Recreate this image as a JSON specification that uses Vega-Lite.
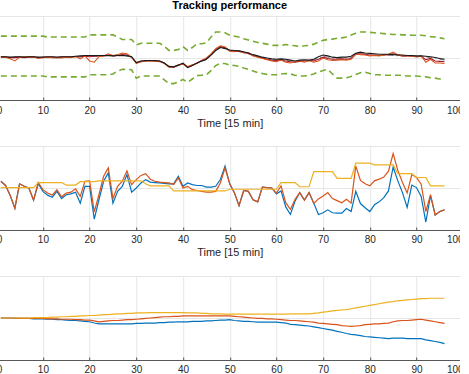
{
"$schema": "https://vega.github.io/schema/vega-lite/v6.json",
"padding": {"left": -4.8, "top": 0, "right": -4.3, "bottom": -12},
"spacing": 46,
"bounds": "flush",
"data": {"values": [
{"t":1,"u":0.52,"l":-0.43,"r":0.03,"m":0.03,"d":0.02,"e":0.02,"b2":0.16,"o2":0.16,"y2":0.01,"b3":0,"o3":0,"y3":0},
{"t":2,"u":0.52,"l":-0.43,"r":0.03,"m":0.02,"d":0.02,"e":0.02,"b2":0.06,"o2":0.06,"y2":0.01,"b3":0,"o3":0,"y3":0},
{"t":3,"u":0.52,"l":-0.43,"r":0.02,"m":-0.02,"d":0.01,"e":0.01,"b2":-0.18,"o2":-0.18,"y2":0.01,"b3":0,"o3":0,"y3":0},
{"t":4,"u":0.52,"l":-0.43,"r":0.03,"m":-0.07,"d":0.01,"e":0.02,"b2":-0.48,"o2":-0.48,"y2":0.01,"b3":-0.01,"o3":0,"y3":0},
{"t":5,"u":0.52,"l":-0.43,"r":0.03,"m":0.02,"d":0.02,"e":0.02,"b2":0.1,"o2":0.1,"y2":0.01,"b3":-0.01,"o3":-0.01,"y3":0},
{"t":6,"u":0.52,"l":-0.43,"r":0.02,"m":0.03,"d":0.01,"e":0.01,"b2":0.04,"o2":0.04,"y2":0.01,"b3":-0.01,"o3":-0.01,"y3":0},
{"t":7,"u":0.52,"l":-0.43,"r":0.03,"m":0.02,"d":0.02,"e":0.02,"b2":0,"o2":0,"y2":0.01,"b3":-0.01,"o3":-0.01,"y3":0},
{"t":8,"u":0.52,"l":-0.43,"r":0.03,"m":0.03,"d":0.02,"e":0.02,"b2":-0.29,"o2":-0.29,"y2":0.01,"b3":-0.02,"o3":-0.01,"y3":0.01},
{"t":9,"u":0.52,"l":-0.43,"r":0.02,"m":-0.01,"d":0.01,"e":0.01,"b2":0.1,"o2":0.13,"y2":0.13,"b3":-0.02,"o3":-0.01,"y3":0.01},
{"t":10,"u":0.52,"l":-0.43,"r":0.02,"m":0.02,"d":0.01,"e":0.01,"b2":-0.08,"o2":-0.04,"y2":0.13,"b3":-0.02,"o3":-0.01,"y3":0.01},
{"t":11,"u":0.5,"l":-0.45,"r":0.03,"m":0.01,"d":0.02,"e":0.02,"b2":-0.17,"o2":-0.12,"y2":0.13,"b3":-0.03,"o3":-0.02,"y3":0.01},
{"t":12,"u":0.5,"l":-0.45,"r":0.03,"m":0.02,"d":0.01,"e":0.02,"b2":-0.22,"o2":-0.17,"y2":0.13,"b3":-0.03,"o3":-0.02,"y3":0.02},
{"t":13,"u":0.5,"l":-0.45,"r":0.02,"m":0.01,"d":0.01,"e":0.01,"b2":-0.08,"o2":-0.04,"y2":0.13,"b3":-0.04,"o3":-0.02,"y3":0.02},
{"t":14,"u":0.5,"l":-0.45,"r":0.03,"m":0,"d":0.02,"e":0.02,"b2":-0.25,"o2":-0.21,"y2":0.13,"b3":-0.04,"o3":-0.03,"y3":0.03},
{"t":15,"u":0.5,"l":-0.45,"r":0.03,"m":0.02,"d":0.02,"e":0.02,"b2":-0.16,"o2":-0.12,"y2":0.07,"b3":-0.05,"o3":-0.03,"y3":0.03},
{"t":16,"u":0.5,"l":-0.45,"r":0.03,"m":0.01,"d":0.02,"e":0.02,"b2":-0.14,"o2":-0.1,"y2":0.07,"b3":-0.06,"o3":-0.03,"y3":0.04},
{"t":17,"u":0.5,"l":-0.45,"r":0.04,"m":0.04,"d":0.03,"e":0.03,"b2":-0.1,"o2":-0.02,"y2":0.07,"b3":-0.06,"o3":-0.04,"y3":0.04},
{"t":18,"u":0.5,"l":-0.45,"r":0.05,"m":-0.02,"d":0.03,"e":0.03,"b2":-0.36,"o2":-0.2,"y2":0.15,"b3":-0.07,"o3":-0.04,"y3":0.05},
{"t":19,"u":0.5,"l":-0.45,"r":0.06,"m":0.05,"d":0.04,"e":0.04,"b2":0.04,"o2":0.16,"y2":0.15,"b3":-0.08,"o3":-0.05,"y3":0.05},
{"t":20,"u":0.55,"l":-0.4,"r":0.06,"m":-0.07,"d":0.03,"e":0.04,"b2":0.04,"o2":0.17,"y2":0.15,"b3":-0.09,"o3":-0.05,"y3":0.06},
{"t":21,"u":0.55,"l":-0.4,"r":0.06,"m":-0.1,"d":0.04,"e":0.04,"b2":-0.74,"o2":-0.57,"y2":0.15,"b3":-0.12,"o3":-0.07,"y3":0.06},
{"t":22,"u":0.55,"l":-0.4,"r":0.06,"m":0.03,"d":0.05,"e":0.04,"b2":-0.28,"o2":-0.16,"y2":0.17,"b3":-0.14,"o3":-0.09,"y3":0.07},
{"t":23,"u":0.55,"l":-0.4,"r":0.06,"m":0.05,"d":0.05,"e":0.04,"b2":0.16,"o2":0.28,"y2":0.17,"b3":-0.14,"o3":-0.08,"y3":0.08},
{"t":24,"u":0.55,"l":-0.4,"r":0.06,"m":0.1,"d":0.07,"e":0.05,"b2":0.36,"o2":0.48,"y2":0.17,"b3":-0.14,"o3":-0.07,"y3":0.08},
{"t":25,"u":0.55,"l":-0.38,"r":0.05,"m":0.06,"d":0.05,"e":0.04,"b2":-0.36,"o2":-0.25,"y2":0.17,"b3":-0.14,"o3":-0.06,"y3":0.09},
{"t":26,"u":0.5,"l":-0.31,"r":0.06,"m":0.08,"d":0.06,"e":0.05,"b2":-0.08,"o2":0.04,"y2":0.17,"b3":-0.14,"o3":-0.06,"y3":0.1},
{"t":27,"u":0.44,"l":-0.27,"r":0.06,"m":0.12,"d":0.08,"e":0.05,"b2":0.04,"o2":0.16,"y2":0.17,"b3":-0.14,"o3":-0.05,"y3":0.1},
{"t":28,"u":0.44,"l":-0.27,"r":0.05,"m":0.1,"d":0.07,"e":0.04,"b2":0.32,"o2":0.41,"y2":0.17,"b3":-0.14,"o3":-0.04,"y3":0.11},
{"t":29,"u":0.44,"l":-0.28,"r":0.03,"m":0.02,"d":0.02,"e":0.02,"b2":-0.1,"o2":0.08,"y2":0.17,"b3":-0.14,"o3":-0.04,"y3":0.11},
{"t":30,"u":0.31,"l":-0.48,"r":-0.11,"m":-0.13,"d":-0.12,"e":-0.12,"b2":0,"o2":0.2,"y2":0.17,"b3":-0.13,"o3":-0.03,"y3":0.12},
{"t":31,"u":0.35,"l":-0.43,"r":-0.07,"m":-0.09,"d":-0.08,"e":-0.09,"b2":0.12,"o2":0.3,"y2":0.17,"b3":-0.13,"o3":-0.02,"y3":0.12},
{"t":32,"u":0.35,"l":-0.43,"r":-0.06,"m":-0.07,"d":-0.07,"e":-0.08,"b2":0.2,"o2":0.34,"y2":0.1,"b3":-0.12,"o3":-0.01,"y3":0.12},
{"t":33,"u":0.35,"l":-0.43,"r":-0.06,"m":-0.06,"d":-0.07,"e":-0.08,"b2":0.14,"o2":0.21,"y2":0.05,"b3":-0.12,"o3":0,"y3":0.13},
{"t":34,"u":0.35,"l":-0.43,"r":-0.06,"m":-0.08,"d":-0.07,"e":-0.08,"b2":0.13,"o2":0.16,"y2":0.05,"b3":-0.12,"o3":0.01,"y3":0.13},
{"t":35,"u":0.35,"l":-0.43,"r":-0.07,"m":-0.07,"d":-0.08,"e":-0.09,"b2":0.12,"o2":0.14,"y2":0.05,"b3":-0.11,"o3":0.02,"y3":0.13},
{"t":36,"u":0.28,"l":-0.52,"r":-0.12,"m":-0.13,"d":-0.12,"e":-0.13,"b2":0.11,"o2":0.13,"y2":0.05,"b3":-0.11,"o3":0.03,"y3":0.13},
{"t":37,"u":0.18,"l":-0.61,"r":-0.2,"m":-0.22,"d":-0.21,"e":-0.21,"b2":0.1,"o2":0.12,"y2":0.05,"b3":-0.1,"o3":0.03,"y3":0.13},
{"t":38,"u":0.18,"l":-0.61,"r":-0.21,"m":-0.22,"d":-0.22,"e":-0.22,"b2":0.1,"o2":0.08,"y2":-0.07,"b3":-0.1,"o3":0.04,"y3":0.13},
{"t":39,"u":0.2,"l":-0.57,"r":-0.17,"m":-0.16,"d":-0.17,"e":-0.18,"b2":0.28,"o2":0.24,"y2":-0.07,"b3":-0.09,"o3":0.04,"y3":0.13},
{"t":40,"u":0.27,"l":-0.51,"r":-0.12,"m":-0.15,"d":-0.13,"e":-0.14,"b2":0.04,"o2":0,"y2":-0.07,"b3":-0.09,"o3":0.05,"y3":0.13},
{"t":41,"u":0.18,"l":-0.58,"r":-0.23,"m":-0.2,"d":-0.22,"e":-0.22,"b2":0.12,"o2":0.04,"y2":-0.07,"b3":-0.09,"o3":0.05,"y3":0.12},
{"t":42,"u":0.25,"l":-0.5,"r":-0.18,"m":-0.16,"d":-0.17,"e":-0.18,"b2":0.08,"o2":-0.04,"y2":-0.07,"b3":-0.08,"o3":0.05,"y3":0.12},
{"t":43,"u":0.34,"l":-0.42,"r":-0.12,"m":-0.13,"d":-0.12,"e":-0.13,"b2":0.06,"o2":-0.06,"y2":-0.07,"b3":-0.08,"o3":0.05,"y3":0.12},
{"t":44,"u":0.34,"l":-0.41,"r":-0.07,"m":-0.06,"d":-0.06,"e":-0.08,"b2":0.06,"o2":-0.08,"y2":-0.07,"b3":-0.08,"o3":0.05,"y3":0.11},
{"t":45,"u":0.36,"l":-0.4,"r":-0.03,"m":0,"d":-0.02,"e":-0.04,"b2":0.02,"o2":-0.1,"y2":-0.07,"b3":-0.07,"o3":0.05,"y3":0.11},
{"t":46,"u":0.5,"l":-0.3,"r":0.07,"m":0.1,"d":0.08,"e":0.06,"b2":0.02,"o2":-0.1,"y2":-0.07,"b3":-0.07,"o3":0.05,"y3":0.1},
{"t":47,"u":0.62,"l":-0.18,"r":0.18,"m":0.22,"d":0.2,"e":0.17,"b2":0.04,"o2":-0.08,"y2":-0.07,"b3":-0.06,"o3":0.05,"y3":0.1},
{"t":48,"u":0.62,"l":-0.13,"r":0.25,"m":0.29,"d":0.27,"e":0.24,"b2":0.2,"o2":0.12,"y2":-0.07,"b3":-0.05,"o3":0.05,"y3":0.1},
{"t":49,"u":0.6,"l":-0.13,"r":0.23,"m":0.26,"d":0.25,"e":0.22,"b2":0.52,"o2":0.48,"y2":-0.07,"b3":-0.05,"o3":0.05,"y3":0.09},
{"t":50,"u":0.54,"l":-0.17,"r":0.19,"m":0.16,"d":0.18,"e":0.17,"b2":0.1,"o2":0.1,"y2":-0.03,"b3":-0.04,"o3":0.05,"y3":0.09},
{"t":51,"u":0.52,"l":-0.18,"r":0.18,"m":0.15,"d":0.16,"e":0.16,"b2":-0.11,"o2":-0.11,"y2":-0.03,"b3":-0.06,"o3":0.04,"y3":0.09},
{"t":52,"u":0.5,"l":-0.2,"r":0.17,"m":0.17,"d":0.16,"e":0.15,"b2":-0.42,"o2":-0.42,"y2":-0.03,"b3":-0.07,"o3":0.03,"y3":0.09},
{"t":53,"u":0.46,"l":-0.24,"r":0.15,"m":0.12,"d":0.13,"e":0.13,"b2":-0.06,"o2":-0.06,"y2":-0.03,"b3":-0.08,"o3":0.02,"y3":0.09},
{"t":54,"u":0.43,"l":-0.27,"r":0.12,"m":0.13,"d":0.11,"e":0.1,"b2":-0.08,"o2":-0.08,"y2":-0.03,"b3":-0.08,"o3":0.01,"y3":0.09},
{"t":55,"u":0.4,"l":-0.31,"r":0.08,"m":0.05,"d":0.06,"e":0.06,"b2":-0.28,"o2":-0.28,"y2":-0.03,"b3":-0.09,"o3":0,"y3":0.09},
{"t":56,"u":0.37,"l":-0.35,"r":0.05,"m":0.02,"d":0.03,"e":0.03,"b2":-0.33,"o2":-0.33,"y2":-0.03,"b3":-0.1,"o3":-0.01,"y3":0.09},
{"t":57,"u":0.35,"l":-0.37,"r":0.02,"m":-0.01,"d":0,"e":0,"b2":0.02,"o2":0.02,"y2":-0.03,"b3":-0.1,"o3":-0.01,"y3":0.09},
{"t":58,"u":0.33,"l":-0.39,"r":0,"m":-0.04,"d":-0.03,"e":-0.02,"b2":0.01,"o2":0.01,"y2":-0.03,"b3":-0.1,"o3":-0.02,"y3":0.09},
{"t":59,"u":0.3,"l":-0.4,"r":-0.02,"m":-0.07,"d":-0.05,"e":-0.04,"b2":0,"o2":0,"y2":-0.03,"b3":-0.1,"o3":-0.02,"y3":0.09},
{"t":60,"u":0.3,"l":-0.4,"r":-0.03,"m":-0.09,"d":-0.06,"e":-0.05,"b2":-0.14,"o2":-0.12,"y2":-0.03,"b3":-0.1,"o3":-0.03,"y3":0.09},
{"t":61,"u":0.3,"l":-0.38,"r":-0.02,"m":-0.05,"d":-0.04,"e":-0.04,"b2":-0.07,"o2":0.05,"y2":0.13,"b3":-0.11,"o3":-0.04,"y3":0.09},
{"t":62,"u":0.32,"l":-0.37,"r":-0.03,"m":-0.1,"d":-0.07,"e":-0.05,"b2":-0.45,"o2":-0.35,"y2":0.13,"b3":-0.12,"o3":-0.05,"y3":0.09},
{"t":63,"u":0.3,"l":-0.38,"r":-0.05,"m":-0.12,"d":-0.09,"e":-0.07,"b2":-0.63,"o2":-0.51,"y2":0.13,"b3":-0.15,"o3":-0.06,"y3":0.1},
{"t":64,"u":0.29,"l":-0.41,"r":-0.07,"m":-0.09,"d":-0.1,"e":-0.09,"b2":-0.31,"o2":-0.27,"y2":0.13,"b3":-0.16,"o3":-0.06,"y3":0.1},
{"t":65,"u":0.27,"l":-0.43,"r":-0.05,"m":-0.07,"d":-0.08,"e":-0.07,"b2":-0.11,"o2":-0.11,"y2":0.03,"b3":-0.17,"o3":-0.07,"y3":0.1},
{"t":66,"u":0.29,"l":-0.43,"r":-0.04,"m":-0.1,"d":-0.07,"e":-0.06,"b2":-0.29,"o2":-0.29,"y2":0.03,"b3":-0.18,"o3":-0.08,"y3":0.1},
{"t":67,"u":0.3,"l":-0.41,"r":-0.05,"m":-0.06,"d":-0.06,"e":-0.07,"b2":-0.11,"o2":-0.11,"y2":0.03,"b3":-0.19,"o3":-0.09,"y3":0.1},
{"t":68,"u":0.33,"l":-0.38,"r":-0.03,"m":-0.1,"d":-0.07,"e":-0.05,"b2":-0.36,"o2":-0.37,"y2":0.39,"b3":-0.21,"o3":-0.1,"y3":0.11},
{"t":69,"u":0.38,"l":-0.33,"r":0.03,"m":-0.07,"d":-0.03,"e":0,"b2":-0.63,"o2":-0.26,"y2":0.39,"b3":-0.23,"o3":-0.12,"y3":0.12},
{"t":70,"u":0.42,"l":-0.3,"r":0.07,"m":0,"d":0.02,"e":0.04,"b2":-0.59,"o2":-0.19,"y2":0.39,"b3":-0.25,"o3":-0.13,"y3":0.14},
{"t":71,"u":0.44,"l":-0.27,"r":0.05,"m":-0.04,"d":-0.01,"e":0.02,"b2":-0.52,"o2":-0.11,"y2":0.39,"b3":-0.27,"o3":-0.14,"y3":0.15},
{"t":72,"u":0.45,"l":-0.38,"r":0.02,"m":-0.06,"d":-0.03,"e":-0.01,"b2":-0.59,"o2":-0.25,"y2":0.39,"b3":-0.29,"o3":-0.15,"y3":0.17},
{"t":73,"u":0.47,"l":-0.48,"r":0.01,"m":-0.05,"d":-0.03,"e":-0.02,"b2":-0.6,"o2":-0.3,"y2":0.23,"b3":-0.32,"o3":-0.16,"y3":0.18},
{"t":74,"u":0.48,"l":-0.48,"r":0.02,"m":-0.04,"d":-0.02,"e":-0.01,"b2":-0.6,"o2":-0.35,"y2":0.23,"b3":-0.34,"o3":-0.18,"y3":0.19},
{"t":75,"u":0.5,"l":-0.47,"r":0.02,"m":-0.05,"d":-0.03,"e":-0.01,"b2":-0.49,"o2":-0.27,"y2":0.23,"b3":-0.37,"o3":-0.19,"y3":0.2},
{"t":76,"u":0.55,"l":-0.44,"r":0.04,"m":-0.03,"d":-0.01,"e":0.01,"b2":-0.56,"o2":-0.36,"y2":0.23,"b3":-0.39,"o3":-0.2,"y3":0.22},
{"t":77,"u":0.59,"l":-0.39,"r":0.11,"m":0.1,"d":0.09,"e":0.08,"b2":-0.08,"o2":0.52,"y2":0.59,"b3":-0.4,"o3":-0.19,"y3":0.24},
{"t":78,"u":0.62,"l":-0.35,"r":0.14,"m":0.08,"d":0.1,"e":0.1,"b2":-0.37,"o2":0.18,"y2":0.59,"b3":-0.42,"o3":-0.18,"y3":0.26},
{"t":79,"u":0.62,"l":-0.34,"r":0.12,"m":0.07,"d":0.09,"e":0.09,"b2":-0.47,"o2":0.1,"y2":0.59,"b3":-0.44,"o3":-0.16,"y3":0.28},
{"t":80,"u":0.61,"l":-0.37,"r":0.11,"m":0.05,"d":0.07,"e":0.08,"b2":-0.56,"o2":0.05,"y2":0.59,"b3":-0.45,"o3":-0.15,"y3":0.3},
{"t":81,"u":0.6,"l":-0.4,"r":0.1,"m":0.06,"d":0.07,"e":0.07,"b2":-0.4,"o2":0.17,"y2":0.55,"b3":-0.46,"o3":-0.14,"y3":0.32},
{"t":82,"u":0.59,"l":-0.4,"r":0.09,"m":0.05,"d":0.06,"e":0.06,"b2":-0.33,"o2":0.21,"y2":0.55,"b3":-0.47,"o3":-0.14,"y3":0.34},
{"t":83,"u":0.58,"l":-0.41,"r":0.09,"m":0.07,"d":0.07,"e":0.06,"b2":-0.23,"o2":0.26,"y2":0.55,"b3":-0.48,"o3":-0.13,"y3":0.36},
{"t":84,"u":0.57,"l":-0.41,"r":0.09,"m":0.09,"d":0.08,"e":0.06,"b2":-0.07,"o2":0.4,"y2":0.55,"b3":-0.49,"o3":-0.12,"y3":0.38},
{"t":85,"u":0.56,"l":-0.41,"r":0.08,"m":0.14,"d":0.1,"e":0.06,"b2":0.5,"o2":0.82,"y2":0.55,"b3":-0.48,"o3":-0.09,"y3":0.39},
{"t":86,"u":0.56,"l":-0.41,"r":0.07,"m":0.08,"d":0.07,"e":0.05,"b2":0.17,"o2":0.42,"y2":0.34,"b3":-0.48,"o3":-0.07,"y3":0.41},
{"t":87,"u":0.55,"l":-0.41,"r":0.07,"m":0.05,"d":0.05,"e":0.05,"b2":-0.11,"o2":0.13,"y2":0.34,"b3":-0.48,"o3":-0.06,"y3":0.42},
{"t":88,"u":0.55,"l":-0.43,"r":0.06,"m":0.06,"d":0.05,"e":0.04,"b2":-0.46,"o2":-0.12,"y2":0.34,"b3":-0.49,"o3":-0.06,"y3":0.43},
{"t":89,"u":0.54,"l":-0.43,"r":0.06,"m":0.05,"d":0.04,"e":0.04,"b2":0.07,"o2":0.32,"y2":0.34,"b3":-0.49,"o3":-0.05,"y3":0.44},
{"t":90,"u":0.54,"l":-0.43,"r":0.05,"m":0.03,"d":0.03,"e":0.03,"b2":0.01,"o2":0.25,"y2":0.25,"b3":-0.49,"o3":-0.04,"y3":0.45},
{"t":91,"u":0.54,"l":-0.44,"r":0.05,"m":0.05,"d":0.04,"e":0.03,"b2":-0.2,"o2":0.09,"y2":0.25,"b3":-0.49,"o3":-0.03,"y3":0.46},
{"t":92,"u":0.53,"l":-0.45,"r":0.04,"m":-0.1,"d":-0.04,"e":0.02,"b2":-0.81,"o2":-0.56,"y2":0.25,"b3":-0.52,"o3":-0.05,"y3":0.46},
{"t":93,"u":0.51,"l":-0.47,"r":0.03,"m":-0.03,"d":-0.01,"e":0.01,"b2":-0.18,"o2":-0.16,"y2":0.05,"b3":-0.54,"o3":-0.07,"y3":0.47},
{"t":94,"u":0.5,"l":-0.48,"r":0.01,"m":-0.12,"d":-0.07,"e":-0.01,"b2":-0.64,"o2":-0.64,"y2":0.05,"b3":-0.56,"o3":-0.09,"y3":0.47},
{"t":95,"u":0.48,"l":-0.5,"r":-0.01,"m":-0.12,"d":-0.08,"e":-0.03,"b2":-0.56,"o2":-0.56,"y2":0.05,"b3":-0.58,"o3":-0.11,"y3":0.47},
{"t":96,"u":0.46,"l":-0.52,"r":-0.03,"m":-0.13,"d":-0.09,"e":-0.05,"b2":-0.52,"o2":-0.52,"y2":0.05,"b3":-0.61,"o3":-0.13,"y3":0.47}
]},
"vconcat": [
{
"width": 467, "height": 84,
"title": {"text": "Tracking performance", "fontSize": 11, "fontWeight": "bold", "font": "Liberation Sans", "color": "#000000", "anchor": "middle", "frame": "group", "offset": 5},
"encoding": {"x": {"field": "t", "type": "quantitative", "scale": {"domain": [0, 100], "nice": false}, "axis": {"values": [0,10,20,30,40,50,60,70,80,90,100], "title": "Time [15 min]"}}},
"layer": [
{"mark": {"type": "line", "color": "#77AC30", "strokeWidth": 1.6, "strokeDash": [6, 4]}, "encoding": {"y": {"field": "u", "type": "quantitative", "title": null, "scale": {"domain": [-1, 1], "nice": false}, "axis": {"values": [-1, 0, 1], "labels": false, "ticks": false}}}},
{"mark": {"type": "line", "color": "#77AC30", "strokeWidth": 1.6, "strokeDash": [6, 4]}, "encoding": {"y": {"field": "l", "type": "quantitative", "title": null}}},
{"mark": {"type": "line", "color": "#8c8c8c", "strokeWidth": 1, "strokeDash": [6, 3, 1, 3]}, "encoding": {"y": {"field": "e", "type": "quantitative", "title": null}}},
{"mark": {"type": "line", "color": "#A2142F", "strokeWidth": 1.1}, "encoding": {"y": {"field": "d", "type": "quantitative", "title": null}}},
{"mark": {"type": "line", "color": "#D95319", "strokeWidth": 1.1}, "encoding": {"y": {"field": "m", "type": "quantitative", "title": null}}},
{"mark": {"type": "line", "color": "#1a1a1a", "strokeWidth": 1.1}, "encoding": {"y": {"field": "r", "type": "quantitative", "title": null}}}
]
},
{
"width": 467, "height": 84,
"encoding": {"x": {"field": "t", "type": "quantitative", "scale": {"domain": [0, 100], "nice": false}, "axis": {"values": [0,10,20,30,40,50,60,70,80,90,100], "title": "Time [15 min]"}}},
"layer": [
{"mark": {"type": "line", "color": "#0072BD", "strokeWidth": 1.2}, "encoding": {"y": {"field": "b2", "type": "quantitative", "title": null, "scale": {"domain": [-1, 1], "nice": false}, "axis": {"values": [-1, 0, 1], "labels": false, "ticks": false}}}},
{"mark": {"type": "line", "color": "#D95319", "strokeWidth": 1.2}, "encoding": {"y": {"field": "o2", "type": "quantitative", "title": null}}},
{"mark": {"type": "line", "color": "#EDB120", "strokeWidth": 1.2}, "encoding": {"y": {"field": "y2", "type": "quantitative", "title": null}}}
]
},
{
"width": 467, "height": 84,
"encoding": {"x": {"field": "t", "type": "quantitative", "scale": {"domain": [0, 100], "nice": false}, "axis": {"values": [0,10,20,30,40,50,60,70,80,90,100], "title": "Time [15 min]"}}},
"layer": [
{"mark": {"type": "line", "color": "#0072BD", "strokeWidth": 1.2}, "encoding": {"y": {"field": "b3", "type": "quantitative", "title": null, "scale": {"domain": [-1, 1], "nice": false}, "axis": {"values": [-1, 0, 1], "labels": false, "ticks": false}}}},
{"mark": {"type": "line", "color": "#D95319", "strokeWidth": 1.2}, "encoding": {"y": {"field": "o3", "type": "quantitative", "title": null}}},
{"mark": {"type": "line", "color": "#EDB120", "strokeWidth": 1.2}, "encoding": {"y": {"field": "y3", "type": "quantitative", "title": null}}}
]
}
],
"config": {
"view": {"stroke": null},
"font": "Liberation Sans",
"axis": {"labelFont": "Liberation Sans", "titleFont": "Liberation Sans", "labelFontSize": 10, "titleFontSize": 11, "titleFontWeight": "normal", "labelColor": "#262626", "titleColor": "#262626", "grid": true, "gridColor": "#e6e6e6", "domainColor": "#555555", "tickColor": "#555555"},
"axisX": {"tickSize": -3, "labelPadding": 8, "titlePadding": 2}
}
}
